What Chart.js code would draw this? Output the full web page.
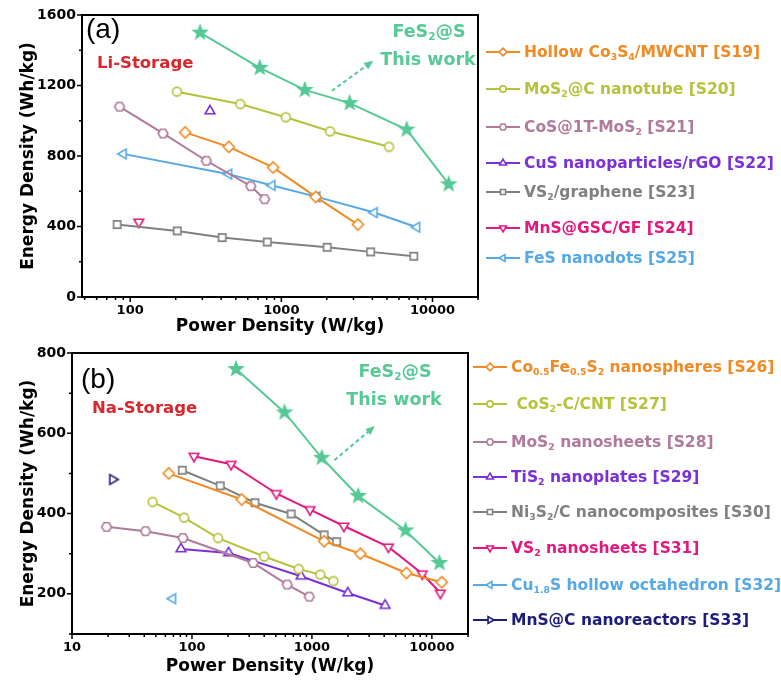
<!DOCTYPE html>
<html lang="en">
<head>
<meta charset="UTF-8">
<title>Ragone plots</title>
<script src="https://cdn.jsdelivr.net/npm/chart.js/dist/chart.umd.min.js"></script>
<style>
  body { margin: 0; background: #fff; width: 781px; height: 684px; position: relative; overflow: hidden; font-family: 'DejaVu Sans', sans-serif; }
  canvas.plot { position: absolute; left: 0; }
  .note { position: absolute; font-weight: bold; line-height: 1; white-space: nowrap; }
  .mid { transform: translateX(-50%); }
  .tag { position: absolute; font-family: 'Liberation Sans', sans-serif; font-size: 28px; line-height: 1; }
  .leg { position: absolute; display: flex; align-items: center; height: 18px; font-weight: bold; font-size: 15.5px; white-space: nowrap; }
  .leg span { margin-left: 4px; }
  sub { font-size: 60%; line-height: 0; vertical-align: -0.3em; }
</style>
</head>
<body>
  <canvas id="li" class="plot" width="485" height="340" style="top:0"></canvas>
  <canvas id="na" class="plot" width="475" height="344" style="top:340px"></canvas>

  <div class="tag" style="left:86px;top:15px">(a)</div>
  <div class="note" style="left:97px;top:55px;font-size:16.5px;color:#d8282e">Li-Storage</div>
  <div class="note mid" style="left:429px;top:23px;font-size:17.5px;color:#56c996">FeS<sub>2</sub>@S</div>
  <div class="note mid" style="left:428px;top:51px;font-size:17.5px;color:#56c996">This work</div>

  <div class="tag" style="left:81px;top:365px">(b)</div>
  <div class="note" style="left:92px;top:400px;font-size:16.5px;color:#d8282e">Na-Storage</div>
  <div class="note mid" style="left:395px;top:363px;font-size:17.5px;color:#56c996">FeS<sub>2</sub>@S</div>
  <div class="note mid" style="left:394px;top:391px;font-size:17.5px;color:#56c996">This work</div>

<script>
// (a) Li storage: [power W/kg, energy Wh/kg]
const liFeS2 = [[290, 1500], [720, 1300], [1430, 1175], [2830, 1100], [6750, 950], [12800, 640]];
const liCo3S4 = [[231, 934], [449, 852], [883, 735], [1690, 568], [3210, 411]];
const liMoS2C = [[204, 1165], [535, 1095], [1070, 1020], [2100, 940], [5160, 852]];
const liCoS = [[85, 1080], [165, 928], [319, 773], [628, 629], [775, 555]];
const liCuS = [[337, 1055]];
const liVS2 = [[82, 411], [205, 375], [406, 337], [807, 312], [2010, 282], [3900, 256], [7520, 231]];
const liMnS = [[114, 426]];
const liFeS = [[90, 812], [449, 697], [869, 633], [1720, 568], [4120, 479], [7870, 396]];
const liNames = [
  'Hollow Co<sub>3</sub>S<sub>4</sub>/MWCNT [S19]',
  'MoS<sub>2</sub>@C nanotube [S20]',
  'CoS@1T-MoS<sub>2</sub> [S21]',
  'CuS nanoparticles/rGO [S22]',
  'VS<sub>2</sub>/graphene [S23]',
  'MnS@GSC/GF [S24]',
  'FeS nanodots [S25]'
];

// (b) Na storage
const naFeS2 = [[233, 760], [591, 652], [1208, 539], [2430, 444], [6030, 358], [11560, 277]];
const naCoFeS = [[64, 500], [260, 435], [1265, 331], [2535, 300], [6140, 252], [12080, 229]];
const naCoS2 = [[47, 429], [86, 390], [165, 339], [400, 293], [776, 262], [1172, 248], [1510, 232]];
const naMoS2 = [[19.4, 367], [41, 356], [84, 339], [324, 277], [622, 223], [951, 193]];
const naTiS2 = [[81, 312], [202, 302], [811, 244], [1990, 202], [4075, 171]];
const naNi3S2 = [[83, 508], [172, 469], [335, 427], [671, 399], [1265, 347], [1607, 330]];
const naVS2 = [[104, 543], [212, 523], [505, 450], [963, 410], [1846, 369], [4340, 317], [8320, 250], [11780, 202]];
const naCu18S = [[69, 188]];
const naMnS = [[21.8, 485]];
const naNames = [
  'Co<sub>0.5</sub>Fe<sub>0.5</sub>S<sub>2</sub> nanospheres [S26]',
  '\u00a0CoS<sub>2</sub>-C/CNT [S27]',
  'MoS<sub>2</sub> nanosheets [S28]',
  'TiS<sub>2</sub> nanoplates [S29]',
  'Ni<sub>3</sub>S<sub>2</sub>/C nanocomposites [S30]',
  'VS<sub>2</sub> nanosheets [S31]',
  'Cu<sub>1.8</sub>S hollow octahedron [S32]',
  'MnS@C nanoreactors [S33]'
];

const xLabels = [10, 100, 1000, 10000];

const GREEN = '#56c996', ORANGE = '#f08a24', OLIVE = '#b4c23c', MAUVE = '#b07a9a',
      PURPLE = '#7b2fd6', GRAY = '#808080', MAGENTA = '#e2197c', BLUE = '#56a8e6', NAVY = '#1c1c7a';
const FONT = "'DejaVu Sans', sans-serif";

function shapePath(ctx, kind, cx, cy, r) {
  ctx.beginPath();
  if (kind === 'circle') { ctx.arc(cx, cy, r, 0, Math.PI * 2); return; }
  if (kind === 'square') { ctx.rect(cx - r * 0.85, cy - r * 0.85, r * 1.7, r * 1.7); return; }
  let pts = [];
  if (kind === 'star') {
    for (let i = 0; i < 10; i++) {
      const rr = i % 2 ? r * 0.42 : r;
      const a = -Math.PI / 2 + i * Math.PI / 5;
      pts.push([cx + rr * Math.cos(a), cy + rr * Math.sin(a)]);
    }
  } else {
    const n = { diamond: 4, hexagon: 6, triUp: 3, triDown: 3, triLeft: 3, triRight: 3 }[kind];
    const start = { diamond: -90, hexagon: 0, triUp: -90, triDown: 90, triLeft: 180, triRight: 0 }[kind];
    for (let i = 0; i < n; i++) {
      const a = (start + i * 360 / n) * Math.PI / 180;
      pts.push([cx + r * Math.cos(a), cy + r * Math.sin(a)]);
    }
  }
  pts.forEach(([px, py], i) => i ? ctx.lineTo(px, py) : ctx.moveTo(px, py));
  ctx.closePath();
}

function paintShape(ctx, kind, cx, cy, r, color) {
  shapePath(ctx, kind, cx, cy, r);
  ctx.fillStyle = kind === 'star' ? color : '#fff';
  ctx.fill();
  ctx.lineWidth = 1.6;
  ctx.strokeStyle = color;
  ctx.stroke();
}

const sizes = { circle: 4.4, square: 4.3, diamond: 5.6, hexagon: 4.9, triUp: 5.6, triDown: 5.6, triLeft: 5.6, triRight: 5.6, star: 7 };

function marker(kind, color) {
  const r = sizes[kind];
  const c = document.createElement('canvas');
  c.width = c.height = Math.ceil(2 * r + 4);
  paintShape(c.getContext('2d'), kind, c.width / 2, c.height / 2, r, color);
  return c;
}

function legend(names, series, left, rows) {
  names.forEach((name, i) => {
    const s = series[i + 1];
    const row = document.createElement('div');
    row.className = 'leg';
    row.style.left = left + 'px';
    row.style.top = (rows[i] - 9) + 'px';
    row.style.color = s.color;
    const c = document.createElement('canvas');
    c.width = 34; c.height = 14;
    const g = c.getContext('2d');
    g.strokeStyle = s.color; g.lineWidth = 1.8;
    g.beginPath(); g.moveTo(0, 7); g.lineTo(34, 7); g.stroke();
    paintShape(g, s.shape, 17, 7, sizes[s.shape] * 0.7, s.color);
    const t = document.createElement('span');
    t.innerHTML = name;
    row.appendChild(c); row.appendChild(t);
    document.body.appendChild(row);
  });
}

// ticks, frame and dashed arrow
const frame = {
  id: 'frame',
  afterDraw(chart, args, opts) {
    const { ctx, chartArea: a, scales: { x, y } } = chart;
    ctx.save();
    ctx.strokeStyle = '#000';
    ctx.lineWidth = 1.5;
    ctx.beginPath();
    x.ticks.forEach(t => {
      const px = x.getPixelForValue(t.value);
      ctx.moveTo(px, a.bottom); ctx.lineTo(px, a.bottom + (t.label ? 5 : 3));
    });
    y.ticks.forEach(t => {
      const py = y.getPixelForValue(t.value);
      ctx.moveTo(a.left, py); ctx.lineTo(a.left - (t.label ? 5 : 3), py);
    });
    ctx.stroke();
    ctx.lineWidth = 2;
    ctx.strokeRect(a.left, a.top, a.right - a.left, a.bottom - a.top);

    const [[x0, y0], [x1, y1]] = opts.arrow;
    const p0 = [x.getPixelForValue(x0), y.getPixelForValue(y0)];
    const p1 = [x.getPixelForValue(x1), y.getPixelForValue(y1)];
    const ang = Math.atan2(p1[1] - p0[1], p1[0] - p0[0]);
    const tip = [p1[0] - 7 * Math.cos(ang), p1[1] - 7 * Math.sin(ang)];
    ctx.strokeStyle = GREEN; ctx.fillStyle = GREEN; ctx.lineWidth = 2;
    ctx.setLineDash([4, 3]);
    ctx.beginPath(); ctx.moveTo(p0[0], p0[1]); ctx.lineTo(tip[0], tip[1]); ctx.stroke();
    ctx.setLineDash([]);
    ctx.beginPath();
    ctx.moveTo(p1[0], p1[1]);
    ctx.lineTo(p1[0] - 10 * Math.cos(ang - 0.4), p1[1] - 10 * Math.sin(ang - 0.4));
    ctx.lineTo(p1[0] - 10 * Math.cos(ang + 0.4), p1[1] - 10 * Math.sin(ang + 0.4));
    ctx.closePath(); ctx.fill();
    ctx.restore();
  }
};

function logTicks(min, max) {
  const out = [];
  for (let e = 1; e <= 4; e++) {
    for (let m = 1; m <= 9; m++) {
      const v = m * Math.pow(10, e);
      if (v >= min && v <= max) out.push(v);
    }
  }
  return out;
}

function buildChart(id, series, cfg) {
  const xFont = { family: FONT, size: 13, weight: 'bold' };
  const yFont = { family: FONT, size: 14, weight: 'bold' };
  const titleFont = { family: FONT, size: 17, weight: 'bold' };
  return new Chart(document.getElementById(id), {
    type: 'line',
    data: {
      datasets: series.map(s => ({
        data: s.pts.map(([x, y]) => ({ x, y })),
        borderColor: s.color,
        borderWidth: 2,
        pointStyle: marker(s.shape, s.color),
        pointRadius: 5,
        pointHoverRadius: 5,
        tension: 0,
        fill: false
      }))
    },
    options: {
      responsive: false,
      animation: false,
      layout: { padding: cfg.padding },
      plugins: { legend: { display: false }, tooltip: { enabled: false }, frame: { arrow: cfg.arrow } },
      scales: {
        x: {
          type: 'logarithmic',
          min: cfg.xMin, max: cfg.xMax,
          afterBuildTicks: s => { s.ticks = logTicks(cfg.xMin, cfg.xMax).map(v => ({ value: v, major: xLabels.includes(v) })); },
          afterFit: s => { s.height = cfg.xHeight; },
          grid: { display: false, drawTicks: true, tickLength: 5 },
          border: { display: false },
          ticks: { autoSkip: false, maxRotation: 0, padding: 1, color: '#000', font: xFont,
                   callback: v => xLabels.includes(v) ? String(v) : '' },
          title: { display: true, text: 'Power Density (W/kg)', color: '#000', font: titleFont, padding: { top: 0, bottom: cfg.titlePad } }
        },
        y: {
          min: cfg.yMin, max: cfg.yMax,
          afterFit: s => { s.width = cfg.yWidth; },
          grid: { display: false, drawTicks: true, tickLength: 5 },
          border: { display: false },
          ticks: { stepSize: cfg.yStep, padding: 1, color: '#000', font: yFont,
                   callback: v => v % cfg.yLabelStep === 0 ? String(v) : '' },
          title: { display: true, text: 'Energy Density (Wh/kg)', color: '#000', font: titleFont, padding: { top: 18, bottom: 0 } }
        }
      }
    },
    plugins: [frame]
  });
}

const liSeries = [
  { pts: liFeS2, color: GREEN, shape: 'star' },
  { pts: liCo3S4, color: ORANGE, shape: 'diamond' },
  { pts: liMoS2C, color: OLIVE, shape: 'circle' },
  { pts: liCoS, color: MAUVE, shape: 'hexagon' },
  { pts: liCuS, color: PURPLE, shape: 'triUp' },
  { pts: liVS2, color: GRAY, shape: 'square' },
  { pts: liMnS, color: MAGENTA, shape: 'triDown' },
  { pts: liFeS, color: BLUE, shape: 'triLeft' }
];

const naSeries = [
  { pts: naFeS2, color: GREEN, shape: 'star' },
  { pts: naCoFeS, color: ORANGE, shape: 'diamond' },
  { pts: naCoS2, color: OLIVE, shape: 'circle' },
  { pts: naMoS2, color: MAUVE, shape: 'hexagon' },
  { pts: naTiS2, color: PURPLE, shape: 'triUp' },
  { pts: naNi3S2, color: GRAY, shape: 'square' },
  { pts: naVS2, color: MAGENTA, shape: 'triDown' },
  { pts: naCu18S, color: BLUE, shape: 'triLeft' },
  { pts: naMnS, color: NAVY, shape: 'triRight' }
];

buildChart('li', liSeries, {
  xMin: 48, xMax: 20000, yMin: 0, yMax: 1600, yStep: 200, yLabelStep: 400,
  padding: { left: 0, top: 15, right: 3, bottom: 0 }, yWidth: 82, xHeight: 43, titlePad: 3,
  arrow: [[2160, 1170], [4060, 1340]]
});

buildChart('na', naSeries, {
  xMin: 10, xMax: 20000, yMin: 100, yMax: 800, yStep: 100, yLabelStep: 200,
  padding: { left: 0, top: 13, right: 4, bottom: 0 }, yWidth: 72, xHeight: 50, titlePad: 7,
  arrow: [[1540, 533], [3350, 618]]
});

legend(liNames, liSeries, 486, [52, 89, 127, 162.5, 192, 228, 257.5]);
legend(naNames, naSeries, 473, [367, 404, 441.5, 477, 512, 548, 585, 620]);
</script>
</body>
</html>
